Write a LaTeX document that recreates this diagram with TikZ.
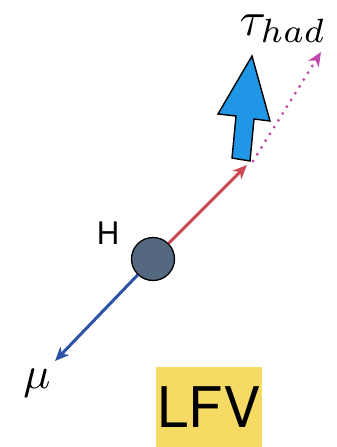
\documentclass[tikz,border=0pt]{standalone}
\usepackage{fontspec}
\setsansfont{TeX Gyre Heros}
\usetikzlibrary{positioning,arrows.meta}

\definecolor{higgsgrey}{RGB}{84,104,128}
\definecolor{muonblue}{RGB}{44,82,168}
\definecolor{taured}{RGB}{204,72,82}
\definecolor{nupink}{RGB}{190,72,172}
\definecolor{jetblue}{RGB}{32,150,230}
\definecolor{lfvyellow}{RGB}{245,218,100}

\begin{document}
\begin{tikzpicture}[
  x=1pt, y=-1pt,
  higgs/.style={circle, draw=black, line width=1.3pt, fill=higgsgrey, minimum size=43pt, inner sep=0pt},
  lbl/.style={inner sep=0pt},
  leg/.style={line width=3pt, -{Stealth[length=14pt, width=12pt, inset=4pt]}},
  nu/.style={line width=3.2pt, dash pattern=on 0pt off 8pt, line cap=round,
             -{Stealth[length=14pt, width=12pt, inset=4pt]}},
  tag/.style={fill=lfvyellow, font=\sffamily\fontsize{56}{56}\selectfont, minimum width=106pt,
              minimum height=80pt, inner sep=0pt}
]
\useasboundingbox (0,0) rectangle (337,447);

% Higgs and its decay products
\node[higgs] (h) at (153,259) {};
\node[lbl, font=\sffamily\fontsize{31}{31}\selectfont] (hname) at (108,233) {H};

\coordinate (mutip) at (55,361);
\coordinate (tautip) at (247,165);
\coordinate (nubase) at (253,161);
\coordinate (nutip) at (321,52);

\draw[leg, muonblue] (h) -- (mutip);
\draw[leg, taured] (h) -- (tautip);
\draw[nu, nupink] (nubase) -- (nutip);

% visible tau jet
\draw[line width=1.4pt, line join=miter, fill=jetblue]
  (252,56) -- (270,121) -- (254,119) -- (250,161) -- (232,158) -- (236,116) -- (218,114) -- cycle;

% labels
\node[lbl, scale=4.5] (mu) at (37,383) {$\mu$};
\node[lbl, scale=4.8] (tau) at (283,29) {$\tau_{had}$};
\node[tag] (lfv) at (209,407) {LFV};
\end{tikzpicture}
\end{document}
